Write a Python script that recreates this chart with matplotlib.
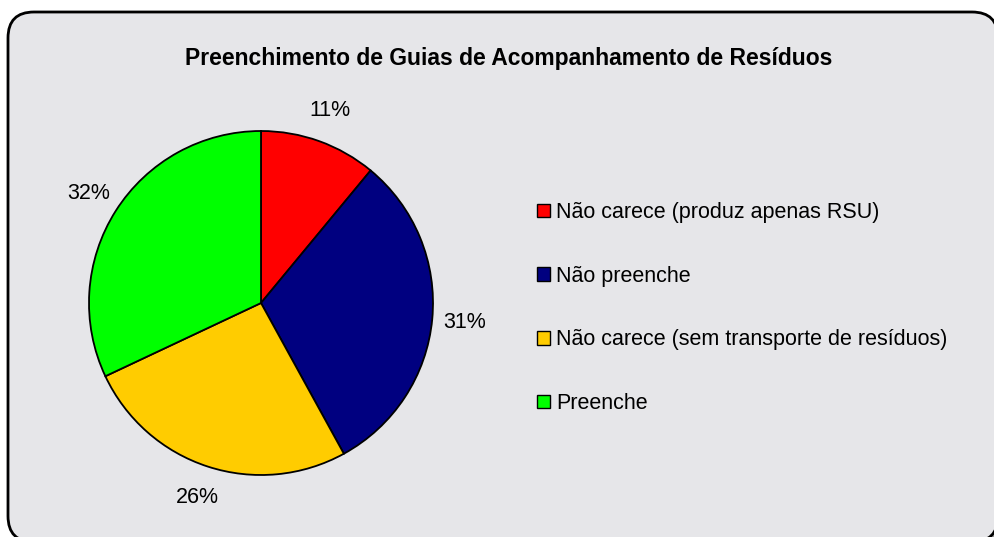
import matplotlib
matplotlib.use("Agg")
import matplotlib.pyplot as plt
from matplotlib.patches import FancyBboxPatch, Patch

plt.rcParams['font.family'] = ['Liberation Sans', 'DejaVu Sans']

# data
title = "Preenchimento de Guias de Acompanhamento de Resíduos"
categories = ["Não carece (produz apenas RSU)", "Não preenche",
              "Não carece (sem transporte de resíduos)", "Preenche"]
values = [11, 31, 26, 32]
colors = ["#FF0000", "#000080", "#FFCC00", "#00FF00"]

W, H = 995, 537
fig = plt.figure(figsize=(W / 100, H / 100), dpi=100)
fig.patch.set_facecolor("white")

# background panel in pixel coords
bg = fig.add_axes([0, 0, 1, 1])
bg.set_xlim(0, W)
bg.set_ylim(H, 0)
bg.axis("off")
shadow = FancyBboxPatch((11, 15), 990, 530, boxstyle="round,pad=0,rounding_size=26",
                        facecolor="#9a9a9a", edgecolor="none", zorder=0)
panel = FancyBboxPatch((8, 12), 990, 530, boxstyle="round,pad=0,rounding_size=26",
                       facecolor="#e6e6e9", edgecolor="black", linewidth=2, zorder=1)
bg.add_patch(shadow)
bg.add_patch(panel)
bg.text(509, 59, title, ha="center", va="center", fontsize=16.5, fontweight="bold", zorder=2)

# pie axes: centre (261,303), radius 172 px
cx, cy, r = 261, 303, 172
ax = fig.add_axes([(cx - r) / W, (H - cy - r) / H, 2 * r / W, 2 * r / H])
pct = [f"{v}%" for v in values]
wedges, texts = ax.pie(values, colors=colors, startangle=90, counterclock=False,
                       labels=pct, labeldistance=1.19,
                       wedgeprops=dict(edgecolor="black", linewidth=1.3),
                       textprops=dict(fontsize=15.5))
for t in texts:
    t.set_ha("center")
    t.set_va("center")
ax.set_xlim(-1, 1)
ax.set_ylim(-1, 1)
ax.set_aspect("equal")
ax.patch.set_visible(False)

handles = [Patch(facecolor=c, edgecolor="black", linewidth=1) for c in colors]
fig.legend(handles, categories, loc="center left", bbox_to_anchor=(526 / W, 1 - 308 / H),
           frameon=False, fontsize=15.5, handlelength=0.6, handleheight=0.6,
           handletextpad=0.3, labelspacing=1.98, borderpad=0)

fig.savefig("out.png", dpi=100)
